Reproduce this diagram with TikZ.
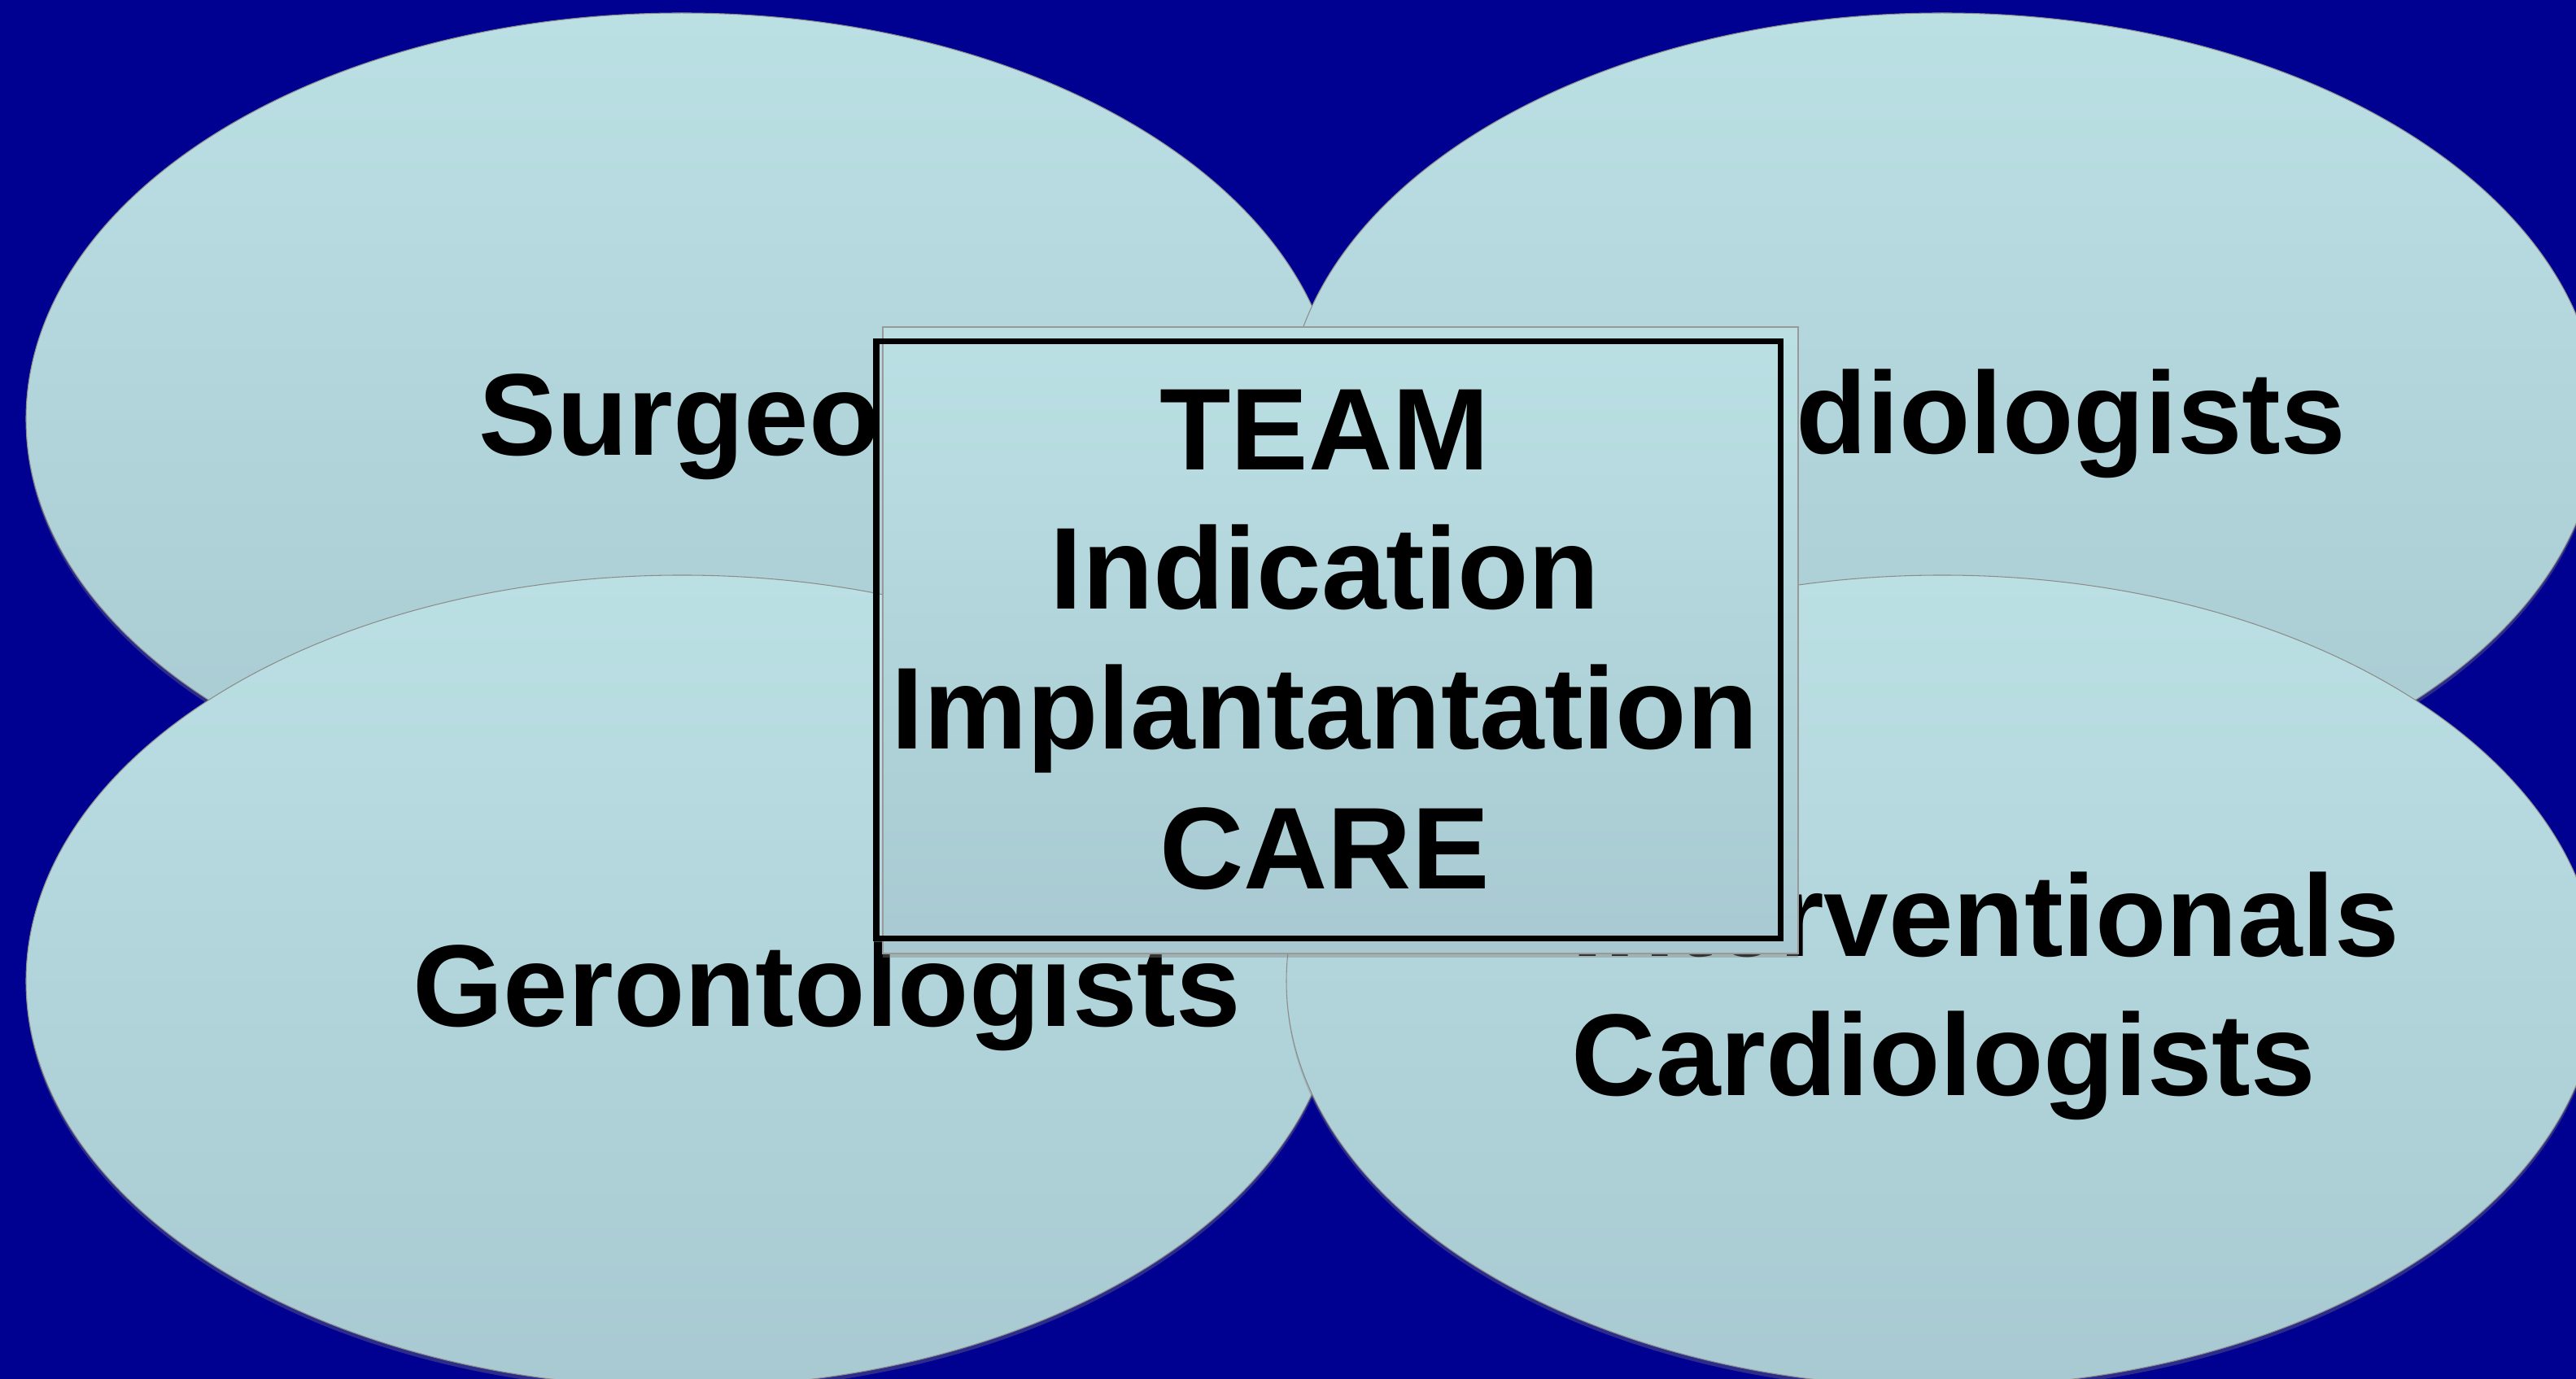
\documentclass[tikz,border=0pt]{standalone}
\usepackage{fontspec}
\setmainfont{Liberation Sans}
\usetikzlibrary{shapes.geometric,shadows}
\definecolor{navy}{RGB}{0,0,145}
\definecolor{paletop}{RGB}{187,224,228}
\definecolor{palebot}{RGB}{168,201,209}

\begin{document}
\begin{tikzpicture}[
	blob/.style = {ellipse, minimum width=16.12cm, minimum height=9.98cm, inner sep=0pt,
		top color=paletop, bottom color=palebot, draw=black!45, line width=0.3pt,
		drop shadow={opacity=0.35, shadow xshift=0pt, shadow yshift=-1.5pt}},
	word/.style = {inner sep=0pt, font=\bfseries\fontsize{40.7}{48.9}\selectfont},
	teambox/.style = {rectangle, minimum width=11.25cm, minimum height=7.70cm, inner sep=0pt,
		top color=paletop, bottom color=palebot, draw=black!40, line width=0.3pt,
		drop shadow={opacity=0.4, shadow xshift=0pt, shadow yshift=-1.5pt}},
	teamframe/.style = {rectangle, minimum width=11.11cm, minimum height=7.34cm, inner sep=0pt,
		draw=black, line width=2pt}
]
	\fill[navy] (0,0) rectangle (31.66,16.95);
	\useasboundingbox (0,0) rectangle (31.66,16.95);

	% four groups
	\node (surg)    at ( 8.38, 11.80)	[blob]	{};
	\node (surgtxt) at ( 5.88, 11.35)	[word, anchor=base west]	{Surgeons};
	\node (card)    at (23.87, 11.80)	[blob]	{};
	\node (cardtxt) at (19.68, 11.37)	[word, anchor=base west]	{Cardiologists};
	\node (geront)    at ( 8.38,  4.89)	[blob]	{};
	\node (geronttxt) at ( 5.07,  4.33)	[word, anchor=base west]	{Gerontologists};
	\node (interv)    at (23.87,  4.89)	[blob]	{};
	\node (intervtxt) at (19.31,  3.48)	[word, anchor=base west, align=left]	{Interventionals\\Cardiologists};

	% centre box
	\node (team)    at (16.475, 9.08)	[teambox]	{};
	\node (frame)   at (16.325, 9.08)	[teamframe]	{};
	\node (teamtxt) at (16.28, 12.17)	[word, anchor=north, align=center]	{TEAM\\Indication\\Implantantation\\CARE};
\end{tikzpicture}
\end{document}
